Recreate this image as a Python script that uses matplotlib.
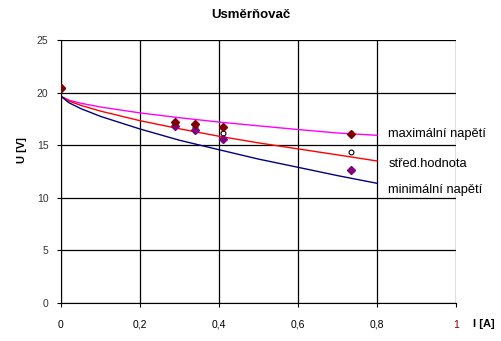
import numpy as np
import matplotlib
matplotlib.use("Agg")
import matplotlib.pyplot as plt

plt.rcParams['font.family'] = ['Liberation Sans', 'DejaVu Sans']

# measured points
I_meas = [0, 0.289, 0.339, 0.409, 0.733]
U_max = [20.45, 17.2, 17.0, 16.7, 16.1]
U_mean = [20.45, 17.0, 16.7, 16.15, 14.35]
U_min = [20.45, 16.85, 16.4, 15.6, 12.6]

# trend curves
I_curve = [0, 0.02, 0.05, 0.1, 0.2, 0.3, 0.4, 0.5, 0.6, 0.7, 0.8]
trend_max = [19.65, 19.28, 18.99, 18.63, 18.07, 17.61, 17.2, 16.84, 16.49, 16.16, 15.94]
trend_mean = [19.65, 19.2, 18.79, 18.24, 17.33, 16.56, 15.85, 15.22, 14.65, 14.08, 13.5]
trend_min = [19.65, 19.04, 18.48, 17.74, 16.54, 15.47, 14.57, 13.68, 12.9, 12.11, 11.38]

xticks = [0, 0.2, 0.4, 0.6, 0.8, 1]
xlabels = ['0', '0,2', '0,4', '0,6', '0,8', '1']
yticks = [0, 5, 10, 15, 20, 25]

fig = plt.figure(figsize=(5.01, 3.41), dpi=100)
ax = fig.add_axes([61/501, 1-303/341, 395/501, 263/341])

ax.plot(I_curve, trend_max, color='#ff00ff', lw=1)
ax.plot(I_curve, trend_mean, color='#ff0000', lw=1)
ax.plot(I_curve, trend_min, color='#000080', lw=1)

ax.plot(I_meas, U_mean, 'o', ms=3.5, mfc='white', mec='black', mew=0.8, zorder=3)
ax.plot(I_meas, U_min, 'D', ms=4.5, color='#800080', zorder=4)
ax.plot(I_meas, U_max, 'D', ms=4.5, color='#800000', zorder=5)

ax.set_xlim(0, 1)
ax.set_ylim(0, 25)
ax.set_xticks(xticks)
ax.set_xticklabels(xlabels)
ax.get_xticklabels()[-1].set_color('#800000')
ax.set_yticks(yticks)
ax.grid(True, color='black', lw=0.9)
ax.set_axisbelow(True)
for s in ['top', 'right']:
    ax.spines[s].set_visible(False)
for s in ['left', 'bottom']:
    ax.spines[s].set_color('black')
ax.tick_params(axis='both', labelsize=7.5, length=3, width=0.8, direction='out')
ax.tick_params(axis='x', pad=9)
ax.tick_params(axis='y', pad=6)
for lab in ax.get_yticklabels():
    lab.set_color('#333333')

fig.text(0.5, 0.956, 'Usměrňovač', ha='center', va='center', fontsize=9.5, fontweight='bold')
fig.text(22/501, 1-150/341, 'U [V]', ha='center', va='center', rotation=90, fontsize=8, fontweight='bold')
fig.text(473/501, 1-324/341, 'I [A]', ha='left', va='center', fontsize=8, fontweight='bold')

fig.text(388/501, 1-134/341, 'maximální napětí', ha='left', va='center', fontsize=9.3)
fig.text(389/501, 1-164/341, 'střed.hodnota', ha='left', va='center', fontsize=9.3)
fig.text(388/501, 1-190/341, 'minimální napětí', ha='left', va='center', fontsize=9.3)

fig.savefig('out.png', dpi=100)
